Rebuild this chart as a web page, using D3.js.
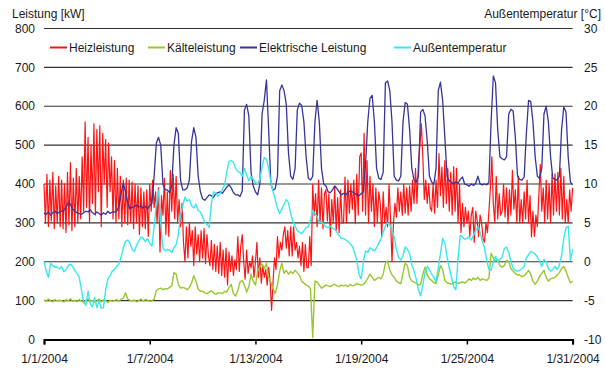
<!DOCTYPE html>
<html>
<head>
<meta charset="utf-8">
<script src="https://cdn.jsdelivr.net/npm/d3@7/dist/d3.min.js"></script>
<style>
  html, body { margin: 0; padding: 0; background: #fff; }
  svg { display: block; font-family: "Liberation Sans", Arial, Helvetica, sans-serif; }
</style>
</head>
<body>
<svg id="chart" width="605" height="372"></svg>
<script>
// ---- data -------------------------------------------------------------
const startDate = new Date(2004, 0, 1);
const endDate = new Date(2004, 0, 31);

const seriesNames = ["Heizleistung", "Kälteleistung", "Elektrische Leistung", "Außentemperatur"];
const seriesColors = ["#ff1414", "#99c72e", "#35359a", "#38e8f0"];

const leftTicks = [0, 100, 200, 300, 400, 500, 600, 700, 800];
const rightTicks = [-10, -5, 0, 5, 10, 15, 20, 25, 30];

// heating power [kW], every 2 hours (one row per day)
const heizleistung = [
  400, 300, 425, 290, 410, 305, 430, 285, 395, 300, 420, 290,
  410, 285, 400, 275, 430, 295, 455, 280, 415, 290, 440, 300,
  420, 310, 470, 330, 560, 340, 520, 300, 500, 350, 555, 320,
  540, 380, 550, 290, 530, 400, 515, 340, 505, 380, 470, 310,
  460, 300, 440, 310, 420, 290, 410, 300, 415, 295, 410, 300,
  405, 285, 400, 300, 395, 270, 390, 290, 380, 285, 385, 265,
  400, 330, 410, 340, 380, 300, 390, 225, 370, 320, 415, 270,
  380, 265, 435, 330, 425, 310, 420, 300, 360, 290, 350, 250,
  200, 290, 210, 300, 240, 280, 190, 290, 220, 270, 200, 280,
  210, 285, 195, 270, 215, 190, 255, 180, 245, 175, 240, 170,
  250, 165, 230, 160, 235, 140, 225, 175, 215, 165, 205, 180,
  265, 175, 240, 270, 200, 155, 230, 170, 200, 185, 215, 160,
  200, 250, 160, 210, 145, 190, 160, 180, 140, 185, 150, 75,
  150, 210, 180, 265, 210, 250, 230, 270, 290, 235, 280, 215,
  290, 215, 290, 230, 250, 210, 240, 190, 250, 175, 245, 185,
  185, 265, 190, 400, 320, 375, 290, 410, 300, 390, 285, 375,
  385, 305, 375, 265, 360, 300, 390, 280, 365, 275, 385, 300,
  300, 418, 300, 410, 325, 400, 335, 410, 298, 425, 320, 470,
  480, 330, 530, 320, 460, 300, 420, 330, 400, 290, 390, 300,
  380, 350, 264, 380, 300, 340, 290, 400, 310, 200, 300, 350,
  315, 390, 330, 380, 320, 400, 325, 390, 320, 395, 330, 410,
  350, 440, 350, 455, 500, 555, 470, 360, 410, 350, 400, 340,
  330, 400, 325, 410, 340, 478, 370, 443, 340, 460, 350, 440,
  330, 430, 320, 445, 330, 440, 300, 400, 275, 350, 290, 340,
  300, 330, 265, 320, 340, 250, 330, 305, 265, 320, 300, 260,
  250, 300, 275, 330, 390, 470, 350, 300, 420, 310, 375, 320,
  330, 400, 315, 390, 298, 385, 320, 435, 335, 385, 300, 420,
  300, 360, 300, 380, 310, 410, 300, 370, 264, 330, 265, 320,
  290, 370, 450, 330, 390, 300, 410, 310, 400, 300, 425, 320,
  426, 330, 430, 320, 440, 310, 420, 300, 360, 300, 385, 330,
  390
];

// cooling power [kW], every 3 hours
const kaelteleistung = [
  102, 98, 104, 100, 97, 103, 99, 101,
  100, 96, 103, 99, 105, 98, 101, 97,
  103, 99, 95, 101, 104, 98, 100, 96,
  99, 104, 97, 102, 100, 95, 101, 98,
  100, 103, 98, 104, 106, 120, 104, 101,
  99, 102, 97, 100, 104, 99, 103, 101,
  98, 100, 104, 126, 130, 132, 128, 131,
  130, 134, 138, 172, 168, 142, 132, 134,
  132, 128, 134, 146, 164, 150, 130, 124,
  124, 120, 118, 122, 126, 120, 116, 120,
  120, 118, 124, 122, 134, 142, 118, 112,
  126, 148, 152, 140, 122, 136, 168, 150,
  140, 176, 188, 194, 182, 196, 160, 148,
  130, 118, 140, 176, 196, 170, 178, 168,
  175, 170, 178, 172, 165, 150, 145, 140,
  138, 130, 5, 150, 148, 140, 132, 136,
  140, 138, 136, 140, 142, 138, 136, 140,
  138, 140, 136, 142, 138, 140, 144, 142,
  140, 142, 148, 158, 168, 160, 152, 156,
  160, 156, 168, 196, 202, 178, 166, 160,
  150, 146, 144, 172, 196, 190, 160, 150,
  148, 144, 140, 142, 168, 186, 166, 156,
  152, 146, 144, 166, 190, 180, 152, 146,
  144, 142, 146, 148, 144, 146, 148, 145,
  150, 156, 152, 158, 154, 160, 152, 156,
  154, 152, 158, 222, 210, 202, 206, 190,
  186, 190, 204, 200, 182, 176, 170, 166,
  166, 162, 164, 170, 178, 168, 150, 142,
  150, 162, 170, 178, 160, 150, 156, 158,
  160, 166, 172, 182, 188, 176, 160, 146,
  150
];

// electrical power [kW], every 3 hours
const elektrischeLeistung = [
  325, 322, 328, 320, 326, 330, 324, 328,
  330, 332, 340, 352, 348, 336, 330, 326,
  324, 322, 326, 330, 328, 334, 326, 322,
  328, 324, 320, 326, 322, 330, 324, 328,
  328, 330, 342, 375, 402, 380, 352, 336,
  340, 342, 346, 340, 344, 338, 342, 336,
  345, 350, 420, 505, 520, 500, 400, 385,
  385, 378, 395, 500, 545, 530, 410, 385,
  385, 390, 410, 510, 545, 520, 420, 380,
  362, 358, 365, 372, 370, 366, 375, 378,
  380, 376, 384, 392, 398, 390, 378, 372,
  372, 368, 382, 590, 605, 575, 430, 395,
  380, 372, 400, 580, 615, 668, 540, 400,
  384, 388, 420, 640, 655, 640, 605, 480,
  420, 412, 440, 590, 608, 602, 560, 470,
  415, 410, 420, 560, 615, 560, 440, 400,
  395, 380, 378, 385, 395, 388, 380, 372,
  376, 372, 378, 382, 380, 376, 372, 370,
  375, 380, 450, 560, 620, 628, 560, 440,
  415, 412, 430, 660, 665, 640, 560, 420,
  410, 408, 420, 560, 610, 605, 540, 440,
  410, 405, 420, 585, 592, 575, 510, 420,
  405, 400, 440, 640, 662, 615, 520, 420,
  408, 404, 400, 406, 402, 412, 418, 400,
  398, 394, 400, 396, 402, 420, 400, 398,
  400, 398, 405, 560, 678, 660, 540, 470,
  465, 462, 470, 580, 592, 588, 520, 420,
  412, 410, 418, 530, 615, 612, 560, 470,
  420, 415, 440, 580, 600, 560, 470, 415,
  412, 410, 420, 540, 598, 585, 470, 405,
  398
];

// outdoor temperature [°C], every 3 hours
const aussentemperatur = [
  0.0, -1.2, -2.0, -0.2, -0.5, -0.7, -0.7, -0.9,
  -0.6, -1.3, -1.0, -0.5, -0.3, -0.6, -1.1, -1.5,
  -2.0, -3.6, -5.2, -5.6, -3.8, -5.4, -5.8, -4.6,
  -5.9, -5.0, -6.0, -5.9, -3.6, -2.2, -1.8, -1.2,
  -1.0, -0.6, -0.3, 0.6, 1.8, 2.6, 2.8, 2.4,
  1.6, 1.3, 2.1, 2.6, 3.2, 3.0, 2.6, 3.0,
  2.4, 2.0, 4.5, 7.5, 9.2, 5.0, 1.8, 1.4,
  1.6, 1.5, 1.2, 1.8, 2.2, 3.5, 6.0, 7.2,
  8.3, 7.8, 8.0, 7.2, 6.9, 7.4, 6.6, 6.4,
  5.8, 5.0, 4.8, 4.4, 7.5, 9.0, 8.8, 8.4,
  8.8, 9.3, 9.9, 11.6, 12.9, 13.0, 12.8, 12.0,
  11.6, 11.5, 11.0, 12.0, 11.2, 10.4, 11.0, 10.6,
  10.2, 10.0, 10.6, 12.2, 13.4, 13.2, 12.0, 10.2,
  9.0, 8.0, 6.9, 6.2, 6.8, 7.4, 8.0, 7.6,
  6.2, 5.2, 4.6, 4.0, 3.8, 3.6, 4.0, 4.4,
  4.5, 5.4, 6.6, 6.2, 5.8, 5.0, 5.2, 4.8,
  4.5, 4.4, 4.6, 4.3, 4.2, 3.8, 3.4, 3.0,
  3.0, 2.8, 2.6, 2.3, 2.0, 1.2, 0.2, -1.6,
  -2.2, 0.0, 1.4, 1.2, 1.8, 1.6, 1.4, 1.8,
  2.4, 2.9, 3.8, 4.6, 5.0, 4.8, 4.0, 3.2,
  1.6, 0.6, 0.2, 0.8, 1.9, 1.6, 1.0, -0.4,
  -1.2, -2.2, -3.6, -4.4, -3.0, -1.4, -0.6, -1.0,
  -1.6, -2.0, -2.6, -0.8, 1.0, 3.0, 2.4, 0.6,
  -0.8, -2.0, -3.2, -3.6, 0.5, 3.4, 3.2, 2.9,
  3.0, 3.2, 2.8, 3.4, 4.0, 4.5, 3.8, 2.6,
  1.8, 0.2, -1.0, -1.1, 0.0, 0.7, 0.0, 0.3,
  0.6, 1.7, 1.9, 1.2, 0.0, -0.8, -1.1, -1.2,
  -1.1, -0.9, -0.6, 0.5, 0.9, 1.3, 1.2, 1.0,
  0.6, 0.1, -0.6, 0.3, 0.0, -0.9, -1.2, -1.0,
  -0.6, -1.0, -0.4, 0.8, 3.0, 4.4, 4.6, 0.2,
  1.6
];

// ---- layout -----------------------------------------------------------
const plot = { left: 44, right: 572.6, top: 28.5, bottom: 339.5 };
const svg = d3.select("#chart");

const x = d3.scaleTime().domain([startDate, endDate]).range([plot.left, plot.right]);
const yLeft = d3.scaleLinear().domain([0, 800]).range([plot.bottom, plot.top]);
const yRight = d3.scaleLinear().domain([-10, 30]).range([plot.bottom, plot.top]);

// time stamps for a series sampled every `hours` hours
const stamped = (values, hours) =>
  values.map((v, i) => ({ t: d3.timeHour.offset(startDate, i * hours), v }));

// ---- grid -------------------------------------------------------------
svg.append("g").selectAll("line")
  .data(leftTicks.filter(d => d > 0))
  .join("line")
  .attr("x1", plot.left).attr("x2", plot.right)
  .attr("y1", d => yLeft(d)).attr("y2", d => yLeft(d))
  .attr("stroke", "#333").attr("stroke-width", 1.1);

// ---- axis titles & tick labels ---------------------------------------
const labelColor = "#1a1a1a";
svg.append("text").attr("x", 12).attr("y", 18)
  .attr("font-size", 12).attr("fill", labelColor).text("Leistung [kW]");
svg.append("text").attr("x", 601).attr("y", 18).attr("text-anchor", "end")
  .attr("font-size", 12).attr("fill", labelColor).text("Außentemperatur [°C]");

svg.append("g").selectAll("text")
  .data(leftTicks).join("text")
  .attr("x", 35).attr("y", d => yLeft(d)).attr("dy", "0.35em")
  .attr("text-anchor", "end").attr("font-size", 12).attr("fill", labelColor)
  .text(d => d);

svg.append("g").selectAll("text")
  .data(rightTicks).join("text")
  .attr("x", 584).attr("y", d => yRight(d)).attr("dy", "0.35em")
  .attr("text-anchor", "start").attr("font-size", 12).attr("fill", labelColor)
  .text(d => d);

// ---- series -----------------------------------------------------------
const lineLeft = d3.line().x(d => x(d.t)).y(d => yLeft(d.v));
const lineRight = d3.line().x(d => x(d.t)).y(d => yRight(d.v));

const series = [
  { data: stamped(heizleistung, 2), gen: lineLeft, width: 1.2 },
  { data: stamped(kaelteleistung, 3), gen: lineLeft, width: 1.4 },
  { data: stamped(elektrischeLeistung, 3), gen: lineLeft, width: 1.3 },
  { data: stamped(aussentemperatur, 3), gen: lineRight, width: 1.4 }
];

svg.append("g").selectAll("path")
  .data(series).join("path")
  .attr("fill", "none")
  .attr("stroke", (d, i) => seriesColors[i])
  .attr("stroke-width", d => d.width)
  .attr("stroke-linejoin", "round")
  .attr("d", d => d.gen(d.data));

// ---- x axis -----------------------------------------------------------
const xAxis = d3.axisBottom(x)
  .ticks(d3.timeDay.every(6))
  .tickFormat(d3.timeFormat("%-m/%-d/%Y"))
  .tickSizeInner(5).tickSizeOuter(5).tickPadding(10);

const gx = svg.append("g").attr("transform", `translate(0,${plot.bottom})`).call(xAxis);
gx.select(".domain").attr("stroke", "#000").attr("stroke-width", 2);
gx.selectAll(".tick line").attr("stroke", "#000").attr("stroke-width", 1.5);
gx.selectAll(".tick text")
  .attr("font-size", 12).attr("fill", labelColor)
  .attr("font-family", "\"Liberation Sans\", Arial, sans-serif");

// ---- legend -----------------------------------------------------------
const legendX = [50, 148, 240, 394];
const legend = svg.append("g").selectAll("g")
  .data(seriesNames).join("g")
  .attr("transform", (d, i) => `translate(${legendX[i]},47.5)`);
legend.append("line")
  .attr("x1", 0).attr("x2", 17).attr("y1", 0).attr("y2", 0)
  .attr("stroke", (d, i) => seriesColors[i]).attr("stroke-width", 2);
legend.append("text")
  .attr("x", 19).attr("y", 0).attr("dy", "0.35em")
  .attr("font-size", 12).attr("fill", labelColor)
  .text(d => d);
</script>
</body>
</html>
